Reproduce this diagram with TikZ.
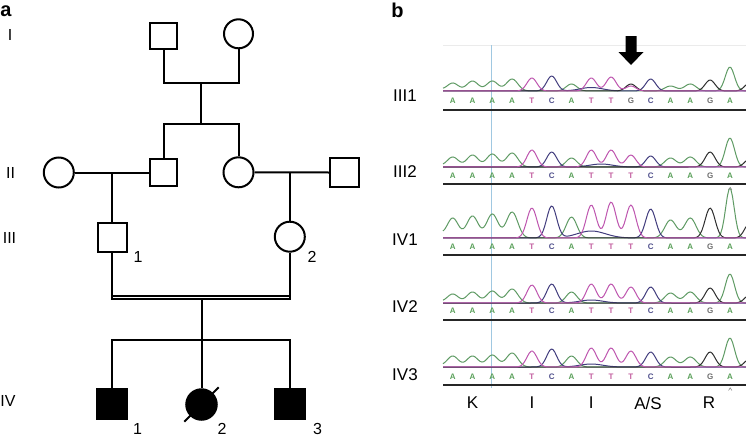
\documentclass[tikz,border=0pt]{standalone}
\usepackage{fontspec}
\setmainfont{Liberation Sans}
\definecolor{tA}{RGB}{95,155,100}
\definecolor{tT}{RGB}{190,85,175}
\definecolor{tC}{RGB}{65,60,125}
\definecolor{tG}{RGB}{45,45,45}
\definecolor{lA}{RGB}{90,160,90}
\definecolor{lT}{RGB}{195,95,160}
\definecolor{lC}{RGB}{80,80,140}
\definecolor{lG}{RGB}{110,110,110}
\definecolor{vline}{RGB}{160,200,225}
\newcommand\chromtrace[3]{\draw[#1, trc] plot[domain=443:746, samples=180] (\x, {#2 #3});}
\begin{document}
\begin{tikzpicture}[x=1pt, y=-1pt,
  declare function={px(\kk)=452.7+19.8*(\kk-1); sq(\tt)=\tt*\tt;
    pk(\ux,\kk,\hh,\sw)=\hh*exp(-min(sq((\ux-px(\kk))/\sw),9));},
  ped/.style={line width=2pt},
  male/.style={draw, rectangle, line width=2pt, inner sep=0pt},
  female/.style={draw, circle, line width=2pt, inner sep=0pt},
  consang/.style={line width=1.4pt, double=white, double distance=1.6pt},
  lbl/.style={font=\fontsize{16}{16}\selectfont, inner sep=0pt},
  rlbl/.style={font=\fontsize{17}{17}\selectfont, inner sep=0pt},
  plabel/.style={font=\bfseries\fontsize{20}{20}\selectfont, inner sep=0pt},
  chl/.style={font=\bfseries\fontsize{8}{8}\selectfont, inner sep=0pt},
  trc/.style={line width=1pt, line join=round},
  seqline/.style={line width=2.2pt, black!85},
]
\fill[white] (0,0) rectangle (746,439);
\useasboundingbox (0,0) rectangle (746,439);

% ---------------- panel a : pedigree ----------------
\node[plabel] (pa) at (6,11) {a};
\node[lbl] (gI) at (10,35) {I};
\node[lbl] (gII) at (10.5,173) {II};
\node[lbl] (gIII) at (9.5,237.5) {III};
\node[lbl] (gIV) at (8,400.5) {IV};

\node[male, minimum size=26.5pt] (I1) at (163.5,35.8) {};
\node[female, minimum size=29pt] (I2) at (238.5,33.8) {};
\node[female, minimum size=30pt] (II1) at (58.8,172.5) {};
\node[male, minimum size=26.5pt] (II2) at (163.5,172.5) {};
\node[female, minimum size=30pt] (II3) at (238.5,172.3) {};
\node[male, minimum size=29pt] (II4) at (344.7,172.5) {};
\node[male, minimum size=29pt] (III1) at (112,237.2) {};
\node[female, minimum size=30pt] (III2) at (289.8,236.7) {};
\node[male, fill, minimum size=29.5pt] (IV1) at (112,404.2) {};
\node[female, fill, minimum size=30.5pt] (IV2) at (201.5,404.5) {};
\node[male, fill, minimum size=29.5pt] (IV3) at (289.8,404.2) {};

\coordinate (mI) at (201,83.3);
\coordinate (sII) at (201,124);
\draw[ped] (I1.south) |- (mI) -| (I2.south);
\draw[ped] (mI) -- (sII);
\draw[ped] (II2.north) |- (sII) -| (II3.north);
\draw[ped] (II1.east) -- (II2.west);
\draw[ped] (II3.east) -- (II4.west);
\draw[ped] (III1.north |- II1.east) -- (III1.north);
\draw[ped] (III2.north |- II3.east) -- (III2.north);

\coordinate (dL) at (112,297.3);
\coordinate (dR) at (289.8,297.3);
\coordinate (cL) at (112,299.6);
\coordinate (cR) at (289.8,299.6);
\draw[consang] (dL) -- (dR);
\draw[ped] (III1.south) -- (cL);
\draw[ped] (III2.south) -- (cR);
\coordinate (cM) at (201.5,299.6);
\coordinate (sIV) at (201.5,340);
\draw[ped] (cM) -- (IV2.north);
\draw[ped] (IV1.north) |- (sIV) -| (IV3.north);
\draw[ped, shorten <=-8pt, shorten >=-8pt] (IV2.225) -- (IV2.45);

\node[lbl] (nIII1) at (138,257) {1};
\node[lbl] (nIII2) at (312,257) {2};
\node[lbl] (nIV1) at (137.5,429) {1};
\node[lbl] (nIV2) at (222,429) {2};
\node[lbl] (nIV3) at (317.5,429) {3};

% ---------------- panel b : chromatograms ----------------
\node[plabel] (pb) at (397.5,10) {b};
\draw[black!8, line width=0.5pt] (443,45) -- (746,45);
\draw[vline, line width=1.2pt] (491.7,45) -- (491.7,388);

% row III1
\chromtrace{tA}{91}{-pk(\x,0,5,8)-pk(\x,1,8,8)-pk(\x,2,10,8)-pk(\x,3,10,8)-pk(\x,4,12,8)-pk(\x,7,7,7.5)-pk(\x,12,5,8)-pk(\x,13,7,8)-pk(\x,15,24,6.5)}
\chromtrace{tC}{91}{-pk(\x,6,15,7)-pk(\x,11,12,7)-pk(\x,8,3.5,16)}
\chromtrace{tG}{91}{-pk(\x,10,7,7)-pk(\x,14,11,7)-pk(\x,16,8,7)}
\chromtrace{tT}{91}{-pk(\x,5,13,7)-pk(\x,8,13,7)-pk(\x,9,14,7)-pk(\x,10,5,7)}

% row III2
\chromtrace{tA}{167}{-pk(\x,0,4,8)-pk(\x,1,10,8)-pk(\x,2,12,8)-pk(\x,3,13,8)-pk(\x,4,14,8)-pk(\x,7,9,7.5)-pk(\x,12,9,8)-pk(\x,13,10,8)-pk(\x,15,29,6.5)}
\chromtrace{tC}{167}{-pk(\x,6,15,7)-pk(\x,11,11,7)-pk(\x,8.5,3,16)}
\chromtrace{tG}{167}{-pk(\x,14,15,7)-pk(\x,16,8,7)}
\chromtrace{tT}{167}{-pk(\x,5,17,7)-pk(\x,8,17,7)-pk(\x,9,17,7)-pk(\x,10,12,7)}

% row IV1
\chromtrace{tA}{238}{-pk(\x,0,12,8)-pk(\x,1,20,8)-pk(\x,2,22,8)-pk(\x,3,24,8)-pk(\x,4,26,8)-pk(\x,7,21,7.5)-pk(\x,12,18,8)-pk(\x,13,20,8)-pk(\x,15,50,6)}
\chromtrace{tC}{238}{-pk(\x,6,32,7)-pk(\x,11,29,7)-pk(\x,8,7,20)}
\chromtrace{tG}{238}{-pk(\x,14,30,7)-pk(\x,16,15,7)}
\chromtrace{tT}{238}{-pk(\x,5,30,7)-pk(\x,8,33,7)-pk(\x,9,36,7)-pk(\x,10,33,7)}

% row IV2
\chromtrace{tA}{303}{-pk(\x,0,4,8)-pk(\x,1,9,8)-pk(\x,2,11,8)-pk(\x,3,12,8)-pk(\x,4,14,8)-pk(\x,7,11,7.5)-pk(\x,12,10,8)-pk(\x,13,11,8)-pk(\x,15,29,6.5)}
\chromtrace{tC}{303}{-pk(\x,6,19,7)-pk(\x,11,16,7)-pk(\x,8,3,16)}
\chromtrace{tG}{303}{-pk(\x,14,15,7)-pk(\x,16,8,7)}
\chromtrace{tT}{303}{-pk(\x,5,18,7)-pk(\x,8,19,7)-pk(\x,9,19,7)-pk(\x,10,16,7)}

% row IV3
\chromtrace{tA}{367}{-pk(\x,0,4,8)-pk(\x,1,11,8)-pk(\x,2,11,8)-pk(\x,3,12,8)-pk(\x,4,14,8)-pk(\x,7,11,7.5)-pk(\x,12,10,8)-pk(\x,13,10,8)-pk(\x,15,29,6.5)}
\chromtrace{tC}{367}{-pk(\x,6,18,7)-pk(\x,11,15,7)-pk(\x,8,3,16)}
\chromtrace{tG}{367}{-pk(\x,14,15,7)-pk(\x,16,8,7)}
\chromtrace{tT}{367}{-pk(\x,5,16,7)-pk(\x,8,19,7)-pk(\x,9,19,7)-pk(\x,10,16,7)}

% base letters
\foreach \yy/\rr/\seq in {100.5/a/{A,A,A,A,T,C,A,T,T,G,C,A,A,G,A},
                          175.5/b/{A,A,A,A,T,C,A,T,T,T,C,A,A,G,A},
                          247/c/{A,A,A,A,T,C,A,T,T,T,C,A,A,G,A},
                          311/d/{A,A,A,A,T,C,A,T,T,T,C,A,A,G,A},
                          376.5/e/{A,A,A,A,T,C,A,T,T,T,C,A,A,G,A}}{
  \foreach \b [count=\i] in \seq
    \node[chl, text=l\b] (r\rr l\i) at ({452.7+19.8*(\i-1)}, \yy) {\b};
}

% separator lines
\draw[seqline] (443,110) -- (746,110);
\draw[seqline] (443,184) -- (746,184);
\draw[seqline] (443,255) -- (746,255);
\draw[seqline] (443,320) -- (746,320);
\draw[seqline] (443,385) -- (746,385);
\draw[gray, line width=0.5pt] (728.5,190) -- (730.2,187.3) -- (731.9,190);
\draw[gray, line width=0.5pt] (728.5,390.5) -- (730.2,387.8) -- (731.9,390.5);

% arrow
\fill[black] (625.5,36) -- (636.5,36) -- (636.5,52) -- (643.5,52) -- (631,65)
  -- (618.5,52) -- (625.5,52) -- cycle;

% row labels
\node[rlbl] (lIII1) at (405,96) {III1};
\node[rlbl] (lIII2) at (405,172) {III2};
\node[rlbl] (lIV1) at (405,240) {IV1};
\node[rlbl] (lIV2) at (405,307) {IV2};
\node[rlbl] (lIV3) at (405,375) {IV3};

% amino acids
\node[rlbl] (aK) at (472.5,403) {K};
\node[rlbl] (aI1) at (532,403) {I};
\node[rlbl] (aI2) at (591.3,403) {I};
\node[rlbl] (aAS) at (648,403) {A/S};
\node[rlbl] (aR) at (709,403) {R};
\end{tikzpicture}
\end{document}
